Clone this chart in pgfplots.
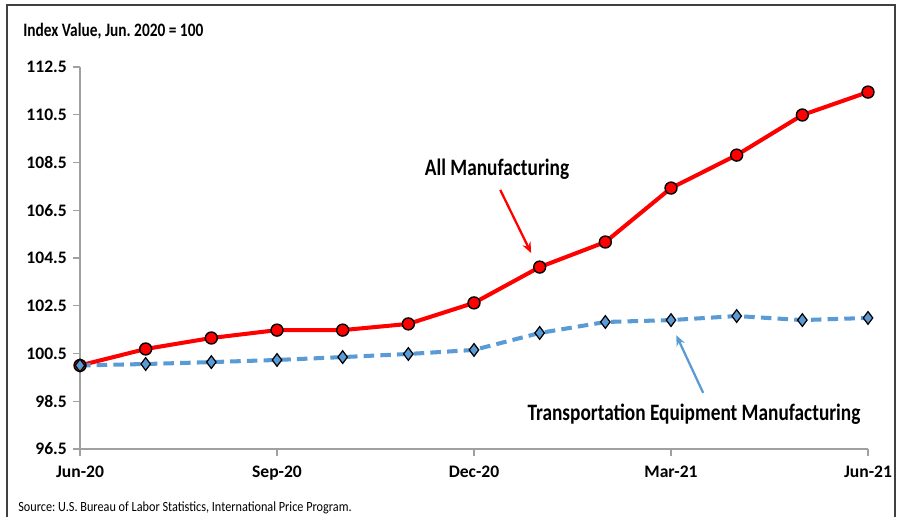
\documentclass[border=0pt]{standalone}
\usepackage{fontspec}
\setmainfont{Carlito}
\usepackage{graphicx}
\usepackage{pgfplots}
\pgfplotsset{compat=1.18}
\usetikzlibrary{arrows.meta}
\definecolor{axgray}{RGB}{160,160,160}
\definecolor{tblue}{RGB}{91,155,213}
\frenchspacing
\begin{document}
\begin{tikzpicture}
\useasboundingbox (0,0) rectangle (18.02cm,-10.32cm);
\begin{scope}
\clip (0,0) rectangle (18.02cm,-10.32cm);
\draw[black!75, line width=1pt] (0.14cm,-0.1cm) rectangle (17.9cm,-11cm);
\end{scope}
\node[anchor=west, inner sep=0pt, font=\fontsize{10.8}{12}\selectfont\bfseries] at (0.46cm,-0.62cm) {\scalebox{0.81}[1]{Index Value, Jun. 2020 = 100}};
\node[anchor=west, inner sep=0pt, font=\fontsize{8}{9}\selectfont] at (0.36cm,-10.16cm) {\scalebox{0.87}[1]{Source: U.S. Bureau of Labor Statistics, International Price Program.}};
\begin{axis}[
    at={(1.6cm,-8.98cm)}, anchor=south west,
    scale only axis,
    width=15.76cm, height=7.64cm,
    xmin=0, xmax=12, ymin=96.5, ymax=112.5,
    axis x line*=bottom, axis y line*=left,
    axis line style={axgray, line width=0.6pt},
    xtick={0,3,6,9,12},
    xticklabels={Jun-20,Sep-20,Dec-20,Mar-21,Jun-21},
    ytick={96.5,98.5,100.5,102.5,104.5,106.5,108.5,110.5,112.5},
    yticklabel style={/pgf/number format/.cd, fixed, fixed zerofill, precision=1},
    /pgf/number format/assume math mode=true,
    tick style={axgray, line width=0.6pt},
    tick align=outside, major tick length=4pt,
    ticklabel style={font=\fontsize{10}{12}\selectfont\bfseries},
    xticklabel style={yshift=-2pt},
    clip=false,
]
\addplot[red, line width=2.3pt, mark=*, mark size=3.4pt,
    mark options={fill=red, draw=black, line width=0.8pt, solid}]
  coordinates {(0,100.0) (1,100.69) (2,101.15) (3,101.48) (4,101.48) (5,101.74)
    (6,102.62) (7,104.12) (8,105.17) (9,107.43) (10,108.81) (11,110.49) (12,111.45)};
\addplot[tblue, line width=2.3pt, dash pattern=on 6pt off 3.5pt, mark=diamond*, mark size=3.6pt,
    mark options={fill=tblue, draw=black, line width=0.7pt, solid}]
  coordinates {(0,100.0) (1,100.06) (2,100.14) (3,100.23) (4,100.35) (5,100.48)
    (6,100.65) (7,101.36) (8,101.82) (9,101.9) (10,102.07) (11,101.9) (12,101.99)};
\node[font=\fontsize{13.4}{15}\selectfont\bfseries] at (axis cs:6.35,108.23) {\scalebox{0.82}[1]{All Manufacturing}};
\draw[red, line width=1.3pt, -{Stealth[length=6pt,width=5pt]}] (axis cs:6.40,107.35) -- (axis cs:6.87,104.71);
\node[font=\fontsize{13.4}{15}\selectfont\bfseries] at (axis cs:9.35,97.97) {\scalebox{0.82}[1]{Transportation Equipment Manufacturing}};
\draw[tblue, line width=1.3pt, -{Stealth[length=6pt,width=5pt]}] (axis cs:9.49,98.85) -- (axis cs:9.08,101.27);
\end{axis}
\end{tikzpicture}
\end{document}
